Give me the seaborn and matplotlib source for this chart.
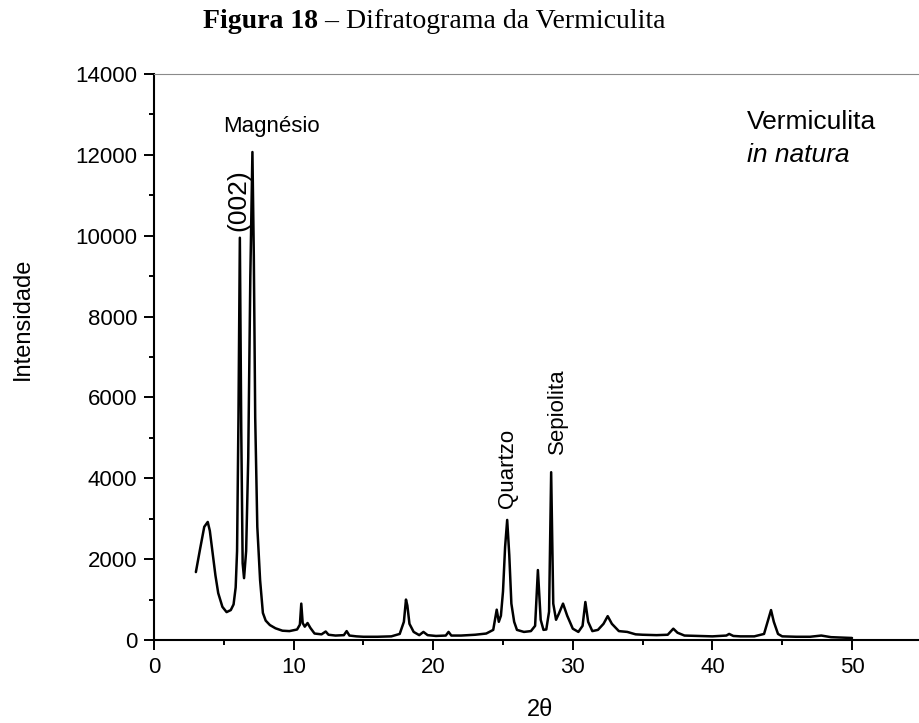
import matplotlib
matplotlib.use("Agg")
import matplotlib.pyplot as plt
from matplotlib.ticker import MultipleLocator
import seaborn as sns
import pandas as pd

two_theta = [3.0, 3.3, 3.6, 3.85, 4.0, 4.2, 4.4, 4.6, 4.9, 5.2, 5.5, 5.7, 5.85, 5.95, 6.05, 6.15,
             6.25, 6.35, 6.45, 6.6, 6.75, 6.9, 7.05, 7.15, 7.25, 7.4, 7.6, 7.8, 8.0, 8.3, 8.7, 9.2,
             9.7, 10.25, 10.45, 10.55, 10.65, 10.8, 11.0, 11.2, 11.5, 12.0, 12.3, 12.5, 13.0, 13.6,
             13.8, 14.0, 14.5, 15.0, 16.0, 17.0, 17.6, 17.9, 18.05, 18.15, 18.3, 18.6, 19.0, 19.3,
             19.6, 20.2, 20.9, 21.1, 21.3, 22.0, 23.0, 23.8, 24.3, 24.55, 24.7, 24.85, 25.0, 25.15,
             25.3, 25.45, 25.6, 25.8, 26.0, 26.5, 27.0, 27.3, 27.5, 27.7, 27.9, 28.1, 28.3, 28.45,
             28.6, 28.8, 29.0, 29.3, 29.6, 30.0, 30.4, 30.7, 30.9, 31.1, 31.4, 31.8, 32.2, 32.5,
             32.8, 33.3, 33.9, 34.5, 35.0, 36.0, 36.8, 37.2, 37.5, 38.0, 39.0, 40.0, 41.0, 41.2,
             41.5, 42.0, 43.0, 43.7, 44.0, 44.2, 44.4, 44.7, 45.0, 46.0, 47.0, 47.8, 48.5, 49.2, 50.0]

intensity = [1680, 2250, 2800, 2920, 2700, 2150, 1600, 1160, 820, 690, 740, 880, 1300, 2200, 5500, 9950,
             5200, 1900, 1530, 2200, 4500, 9000, 12070, 9500, 5500, 2800, 1480, 670, 480, 370, 290, 230,
             220, 260, 380, 900, 420, 330, 420, 300, 160, 140, 210, 130, 110, 120,
             220, 110, 90, 80, 80, 90, 150, 450, 1000, 850, 400, 200, 120, 200,
             120, 100, 110, 200, 110, 110, 130, 160, 250, 750, 450, 600, 1200, 2300,
             2970, 2100, 900, 450, 250, 200, 220, 350, 1730, 500, 250, 260, 700, 4150,
             900, 500, 650, 900, 600, 280, 200, 350, 940, 450, 220, 250, 400, 590,
             400, 220, 200, 140, 130, 120, 130, 280, 180, 110, 100, 90, 110, 150,
             100, 90, 90, 150, 500, 740, 450, 150, 90, 80, 80, 110, 70, 60, 50]

peak_labels = ["Magnésio", "(002)", "Quartzo", "Sepiolita"]
peak_label_x = [8.4, 6.05, 25.3, 28.9]
peak_label_y = [12690, 10880, 4250, 5660]

xticks = [0, 10, 20, 30, 40, 50]
yticks = [0, 2000, 4000, 6000, 8000, 10000, 12000, 14000]

df = pd.DataFrame({"two_theta": two_theta, "intensity": intensity})

sns.set_theme(style="ticks")
plt.rcParams["font.family"] = ["Liberation Sans", "DejaVu Sans"]
plt.rcParams["text.color"] = "black"
plt.rcParams["axes.labelcolor"] = "black"
plt.rcParams["xtick.color"] = "black"
plt.rcParams["ytick.color"] = "black"

fig = plt.figure(figsize=(9.19, 7.23), dpi=100)
ax = fig.add_axes([154 / 919, 83 / 723, 1 - 154 / 919, 566 / 723])

sns.lineplot(data=df, x="two_theta", y="intensity", ax=ax, color="black", linewidth=1.8,
             estimator=None, sort=False)

ax.set_xlim(0, 54.8)
ax.set_ylim(0, 14000)
ax.set_xticks(xticks)
ax.set_yticks(yticks)
ax.xaxis.set_minor_locator(MultipleLocator(5))
ax.yaxis.set_minor_locator(MultipleLocator(1000))
ax.tick_params(which="major", direction="out", length=7, width=1.4, labelsize=16, pad=5,
               colors="black", labelcolor="black")
ax.tick_params(which="minor", direction="out", length=3.5, width=1.4, colors="black")

for side in ["left", "bottom"]:
    ax.spines[side].set_linewidth(1.5)
    ax.spines[side].set_color("black")
ax.spines["right"].set_visible(False)
ax.spines["top"].set_linewidth(0.8)
ax.spines["top"].set_color("#8a8a8a")

ax.set_xlabel("2θ", fontsize=17, color="black")
ax.set_ylabel("Intensidade", fontsize=17, color="black")
ax.xaxis.set_label_coords(0.505, -0.105)
ax.yaxis.set_label_coords(-0.157, 0.567)

# peak annotations
ax.text(peak_label_x[0], peak_label_y[0], peak_labels[0], fontsize=16, ha="center", va="center",
        color="black")
for lbl, px, py, fs in zip(peak_labels[1:], peak_label_x[1:], peak_label_y[1:], [19, 16, 16]):
    ax.text(px, py, lbl, fontsize=fs, ha="center", va="center", rotation=90, color="black")

ax.text(42.5, 12810, "Vermiculita", fontsize=19, ha="left", va="center", color="black")
ax.text(42.5, 12000, "in natura", fontsize=19, ha="left", va="center", style="italic", color="black")

# title (bold prefix + regular remainder)
fig.text(318 / 919, 1 - 22 / 723, "Figura 18", fontsize=20, fontweight="bold",
         family=["Liberation Serif", "DejaVu Serif"], ha="right", va="center", color="black")
fig.text(318 / 919, 1 - 22 / 723, " – Difratograma da Vermiculita", fontsize=20,
         family=["Liberation Serif", "DejaVu Serif"], ha="left", va="center", color="black")

fig.savefig("out.png", dpi=100, facecolor="white")
